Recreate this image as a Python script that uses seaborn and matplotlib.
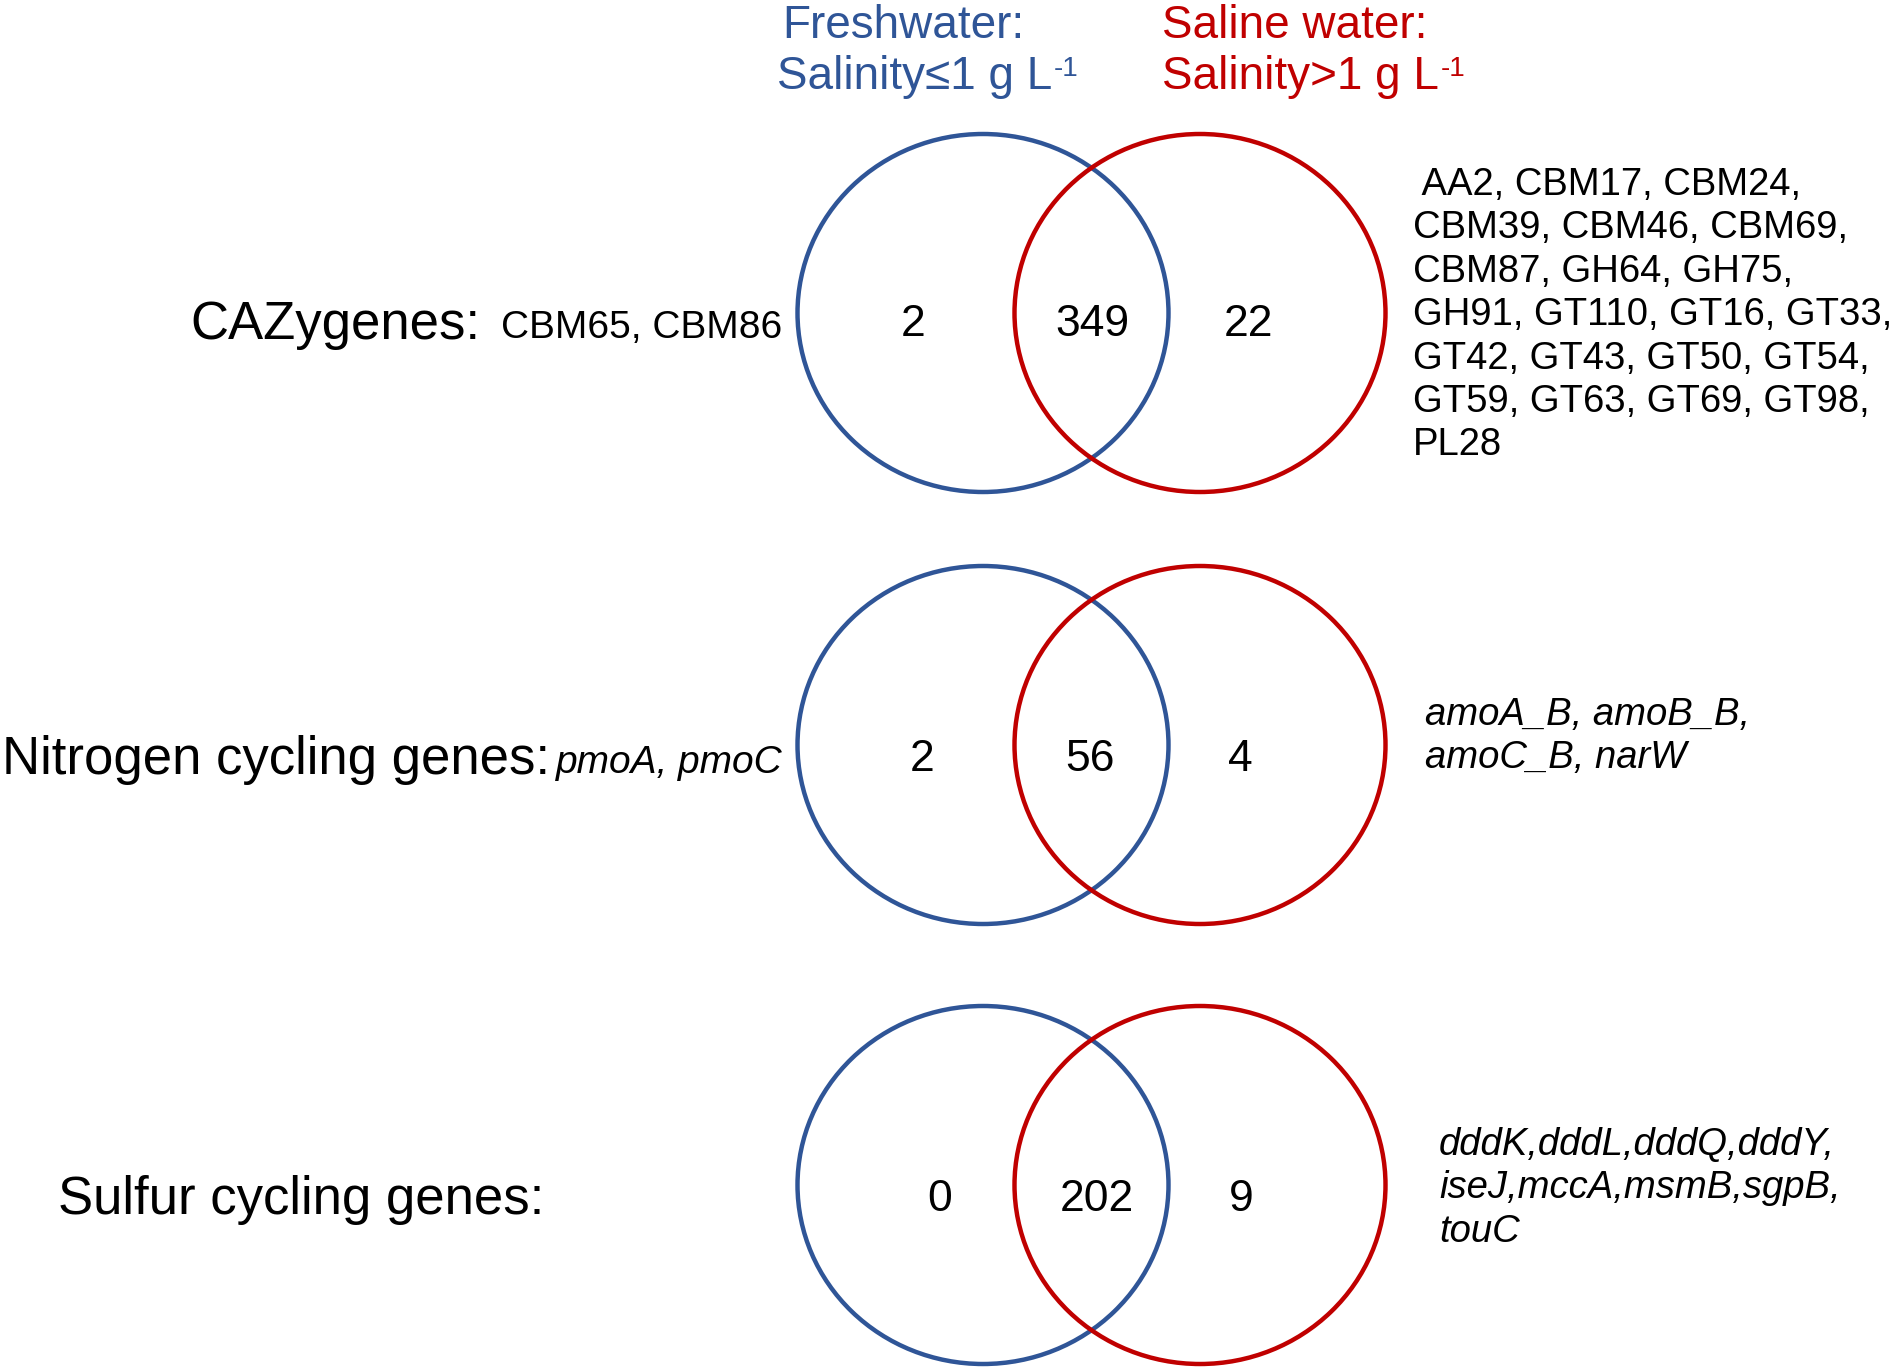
import matplotlib
matplotlib.use("Agg")
import matplotlib.pyplot as plt
from matplotlib.patches import Ellipse
import seaborn as sns

# Venn counts: (freshwater only, shared, saline only)
groups = ["CAZygenes:", "Nitrogen cycling genes:", "Sulfur cycling genes:"]
fresh_only = [2, 2, 0]
shared = [349, 56, 202]
saline_only = [22, 4, 9]

# genes unique to each side
fresh_genes = ["CBM65, CBM86", "pmoA, pmoC", ""]
saline_genes = [
    [" AA2, CBM17, CBM24,", "CBM39, CBM46, CBM69,", "CBM87, GH64, GH75,",
     "GH91, GT110, GT16, GT33,", "GT42, GT43, GT50, GT54,",
     "GT59, GT63, GT69, GT98,", "PL28"],
    ["amoA_B, amoB_B,", "amoC_B, narW"],
    ["dddK,dddL,dddQ,dddY,", "iseJ,mccA,msmB,sgpB,", "touC"],
]
italic_genes = [False, True, True]

set_titles = ["Freshwater:", "Saline water:"]
set_subtitles = ["Salinity≤1 g L", "Salinity>1 g L"]
unit_sup = "-1"

sns.set_style("white")
plt.rcParams["font.family"] = ["Liberation Sans", "DejaVu Sans"]
plt.rcParams["text.color"] = "black"

blue = "#2F5597"
red = "#C00000"

fig = plt.figure(figsize=(19.02, 13.72), dpi=100)
ax = fig.add_axes([0, 0, 1, 1])
ax.set_xlim(0, 1902)
ax.set_ylim(1372, 0)
ax.axis("off")

# layout
row_y = [313, 745, 1185]
blue_x, red_x = 983, 1200
rx, ry = 185.5, 179
num_y = [320, 755, 1195]
num_x = [(913, 1092, 1248), (922, 1090, 1240), (940, 1097, 1241)]
label_left = [190, 2, 58]
gene_left = [501, 556, None]
list_x = [1413, 1425, 1439]
list_top = [195, 725, 1155]
list_step = 43.4

for i, g in enumerate(groups):
    cy = row_y[i]
    ax.add_patch(Ellipse((blue_x, cy), 2 * rx, 2 * ry, fill=False, ec=blue, lw=3.2))
    ax.add_patch(Ellipse((red_x, cy), 2 * rx, 2 * ry, fill=False, ec=red, lw=3.2))

    vals = [fresh_only[i], shared[i], saline_only[i]]
    for x, v in zip(num_x[i], vals):
        ax.text(x, num_y[i] + 16, str(v), fontsize=32, color="black",
                ha="center", va="baseline")

    base = num_y[i] + 19
    ax.text(label_left[i], base, g, fontsize=38, color="black", ha="left", va="baseline")
    if fresh_genes[i]:
        ax.text(gene_left[i], base - 1, fresh_genes[i], fontsize=28, color="black",
                ha="left", va="baseline",
                style="italic" if italic_genes[i] else "normal")

    for k, line in enumerate(saline_genes[i]):
        ax.text(list_x[i], list_top[i] + k * list_step, line, fontsize=27.5,
                color="black", ha="left", va="baseline",
                style="italic" if italic_genes[i] else "normal")

# set headers
for x0, x1, title, sub, col in [(782, 777, set_titles[0], set_subtitles[0], blue),
                                (1162, 1162, set_titles[1], set_subtitles[1], red)]:
    ax.text(x0, 38, title, fontsize=33, color=col, ha="left", va="baseline")
    t = ax.text(x1, 89, sub, fontsize=33, color=col, ha="left", va="baseline")
    ax.annotate(unit_sup, xy=(1.0, 0.97), xycoords=t, xytext=(1, 0),
                textcoords="offset points", fontsize=20, color=col,
                ha="left", va="top")

fig.savefig("out.png", dpi=100, facecolor="white")
